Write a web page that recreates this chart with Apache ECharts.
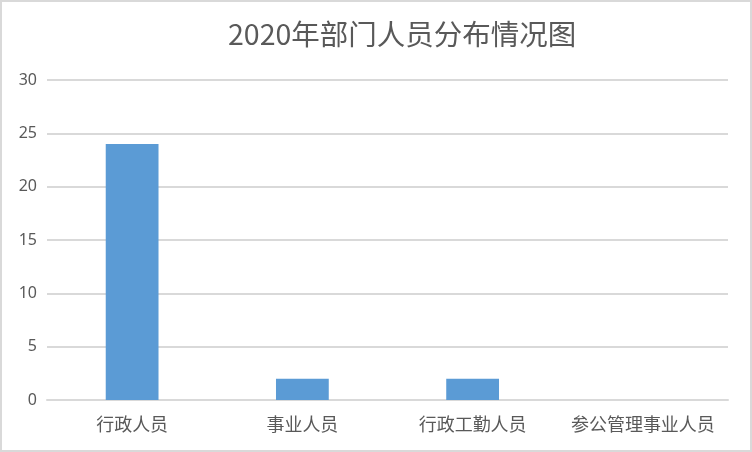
<!DOCTYPE html>
<html><head><meta charset="utf-8">
<script src="https://cdn.jsdelivr.net/npm/echarts@6/dist/echarts.min.js"></script>
<style>html,body{margin:0;padding:0;background:#fff}#c{width:752px;height:452px;box-sizing:border-box;border:2px solid #d9d9d9}</style>
</head><body><div id="c"></div>
<script>
const titleText = '2020年部门人员分布情况图';
const categories = ['行政人员', '事业人员', '行政工勤人员', '参公管理事业人员'];
const values = [24, 2, 2, 0];
const chart = echarts.init(document.getElementById('c'));
chart.setOption({
  animation: false,
  title: { text: titleText, left: 221, top: 13,
    textStyle: { fontFamily: 'Noto Sans CJK SC', fontSize: 28.5, fontWeight: 'normal', color: '#595959' } },
  grid: { left: 45, right: 22, top: 78, bottom: 50 },
  xAxis: { type: 'category', data: categories,
    axisLine: { show: true, lineStyle: { color: '#d9d9d9', width: 2 } },
    axisTick: { show: false },
    axisLabel: { interval: 0, color: '#595959', fontSize: 18, fontFamily: 'Noto Sans CJK SC', margin: 15 } },
  yAxis: { type: 'value', min: 0, max: 30, interval: 5,
    axisLine: { show: false }, axisTick: { show: false },
    splitLine: { lineStyle: { color: '#d9d9d9', width: 2 } },
    axisLabel: { color: '#595959', fontSize: 16, fontFamily: 'Noto Sans', margin: 10 } },
  series: [{ type: 'bar', data: values, barWidth: '31%', itemStyle: { color: '#5b9bd5' } }]
});
</script></body></html>
